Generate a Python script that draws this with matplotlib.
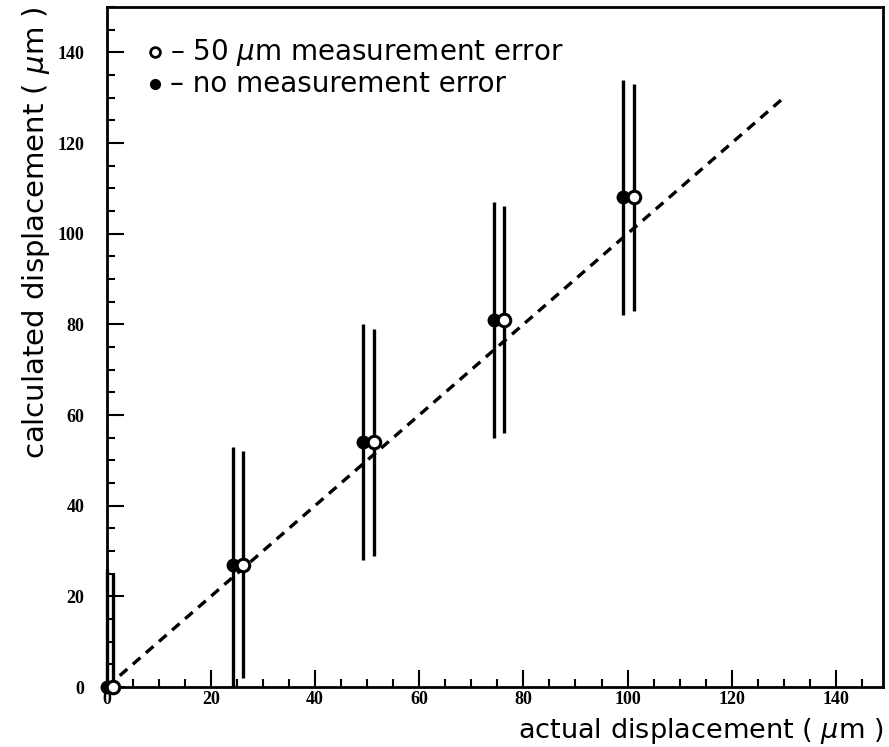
import numpy as np
import matplotlib
matplotlib.use("Agg")
import matplotlib.pyplot as plt
from matplotlib.ticker import MultipleLocator

# no measurement error (filled)
x_filled = [0.0, 24.3, 49.3, 74.3, 99.2]
y_filled = [0.0, 27.0, 54.0, 81.0, 108.0]
err_filled_lo = [0.0, 27.0, 26.0, 26.0, 26.0]
err_filled_hi = [26.0, 26.0, 26.0, 26.0, 26.0]

# 50 um measurement error (open)
x_open = [1.2, 26.2, 51.3, 76.2, 101.3]
y_open = [0.0, 27.0, 54.0, 81.0, 108.0]
err_open_lo = [0.0, 25.0, 25.0, 25.0, 25.0]
err_open_hi = [25.0, 25.0, 25.0, 25.0, 25.0]

ideal_x = [0, 130]
ideal_y = [0, 130]

legend_labels = [u'\u2013 50 $\\mu$m measurement error', u'\u2013 no measurement error']

sans = ['DejaVu Sans']
serif = ['Liberation Serif']

fig = plt.figure(figsize=(8.89, 7.47), dpi=100)
ax = fig.add_axes([0.120, 0.0803, 0.873, 0.9103])

# ideal line y = x
ax.plot(ideal_x, ideal_y, ls=(0, (3, 2.2)), color='black', lw=2.4, zorder=1)

ax.errorbar(x_filled, y_filled, yerr=[err_filled_lo, err_filled_hi], fmt='o',
            color='black', mfc='black', mec='black', ms=9, elinewidth=2.4,
            capsize=0, zorder=3, clip_on=False)
ax.errorbar(x_open, y_open, yerr=[err_open_lo, err_open_hi], fmt='o',
            color='black', mfc='white', mec='black', mew=2.2, ms=9,
            elinewidth=2.4, capsize=0, zorder=3, clip_on=False)

ax.set_xlim(0, 149)
ax.set_ylim(0, 150)

ax.xaxis.set_major_locator(MultipleLocator(20))
ax.xaxis.set_minor_locator(MultipleLocator(5))
ax.yaxis.set_major_locator(MultipleLocator(20))
ax.yaxis.set_minor_locator(MultipleLocator(5))
ax.tick_params(which='both', direction='in', top=False, right=False, width=1.5)
ax.tick_params(axis='x', which='major', length=12, pad=3)
ax.tick_params(axis='y', which='major', length=12, pad=16)
ax.tick_params(which='minor', length=6)
for lab in ax.get_xticklabels() + ax.get_yticklabels():
    lab.set_fontfamily(serif)
    lab.set_fontweight('bold')
    lab.set_fontsize(13)
for s in ax.spines.values():
    s.set_linewidth(2.0)

fig.text(0.994, 0.002, r'actual displacement ( $\mu$m )', ha='right', va='bottom',
         fontsize=19.5, family=sans)
fig.text(0.022, 0.991, r'calculated displacement ( $\mu$m )', ha='left', va='top',
         rotation=90, fontsize=21, family=sans)

# legend drawn by hand
leg_y = [0.930, 0.888]
ax_leg = fig.add_axes([0, 0, 1, 1], facecolor='none')
ax_leg.set_axis_off()
ax_leg.set_xlim(0, 1)
ax_leg.set_ylim(0, 1)
ax_leg.plot([0.174], [leg_y[0]], 'o', ms=7, mfc='white', mec='black', mew=2)
ax_leg.plot([0.174], [leg_y[1]], 'o', ms=7, mfc='black', mec='black')
for yy, txt in zip(leg_y, legend_labels):
    ax_leg.text(0.191, yy, txt, ha='left', va='center', fontsize=20, family=sans)

fig.savefig('out.png', dpi=100)
